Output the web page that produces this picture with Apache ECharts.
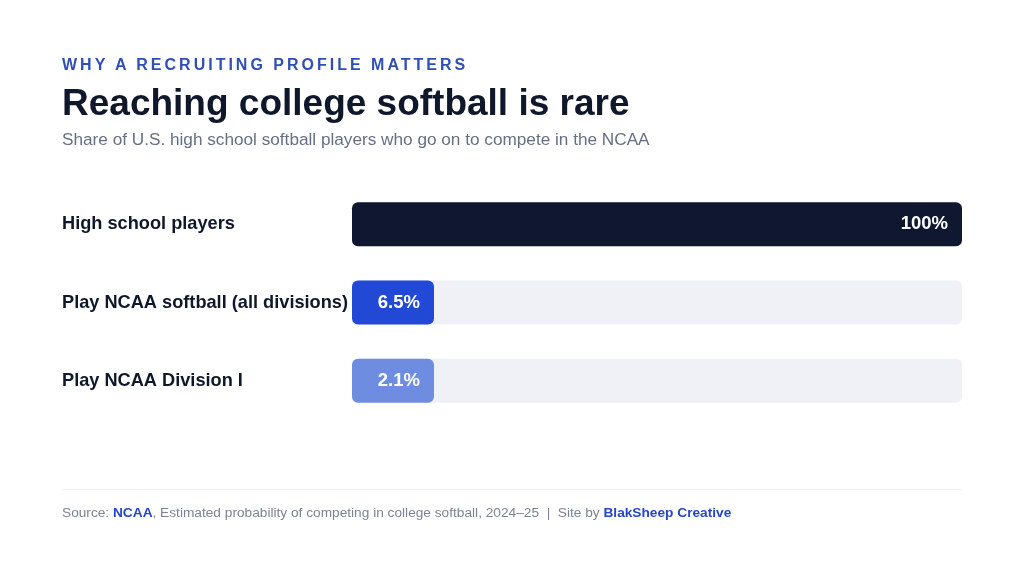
<!DOCTYPE html>
<html lang="en">
<head>
    <meta charset="UTF-8">
    <title>Reaching college softball is rare</title>
    <script src="https://cdn.jsdelivr.net/npm/echarts@6/dist/echarts.min.js"></script>
    <style>
        html, body { margin: 0; padding: 0; background: #ffffff; }
        #wrap { position: relative; width: 1024px; height: 576px; }
        #main { position: absolute; left: 0; top: 0; width: 1024px; height: 576px; }
        /* eyebrow in html because canvas text has no letter spacing */
        #eyebrow {
            position: absolute; left: 62px; top: 55px;
            font: bold 16px "Liberation Sans", Arial, sans-serif;
            letter-spacing: 3px; color: #2f4fb6; line-height: 20px;
        }
    </style>
</head>
<body>
<div id="wrap">
    <div id="main"></div>
    <div id="eyebrow">WHY A RECRUITING PROFILE MATTERS</div>
</div>

<script type="text/javascript">
    // data
    var categories = ['High school players', 'Play NCAA softball (all divisions)', 'Play NCAA Division I'];
    var shares = [100, 6.5, 2.1];
    var barColors = ['#0f1830', '#2249d6', '#6f8de0'];

    var font = '"Liberation Sans", Arial, sans-serif';

    var myChart = echarts.init(document.getElementById('main'));
    var option = {
        backgroundColor: '#ffffff',
        animation: false,
        grid: {
            left: 352,
            right: 62,
            top: 185,
            bottom: 156
        },
        xAxis: {
            type: 'value',
            min: 0,
            max: 100,
            show: false
        },
        yAxis: {
            type: 'category',
            inverse: true,
            data: categories,
            axisLine: { show: false },
            axisTick: { show: false },
            axisLabel: {
                align: 'left',
                margin: 290,
                color: '#0f172a',
                fontFamily: font,
                fontWeight: 'bold',
                fontSize: 18.2
            }
        },
        series: [
            {
                type: 'bar',
                barWidth: 44,
                barMinHeight: 82,
                showBackground: true,
                backgroundStyle: {
                    color: '#eff1f7',
                    borderRadius: 6
                },
                data: shares.map(function (v, i) {
                    return { value: v, itemStyle: { color: barColors[i], borderRadius: 6 } };
                }),
                label: {
                    show: true,
                    position: 'insideRight',
                    distance: 14,
                    color: '#ffffff',
                    fontFamily: font,
                    fontWeight: 'bold',
                    fontSize: 18.5,
                    formatter: function (p) { return p.value + '%'; }
                }
            }
        ],
        graphic: [
            {
                type: 'text', left: 62, top: 86,
                style: {
                    text: 'Reaching college softball is rare',
                    fill: '#0f172a',
                    font: 'bold 37px ' + font
                }
            },
            {
                type: 'text', left: 62, top: 132,
                style: {
                    text: 'Share of U.S. high school softball players who go on to compete in the NCAA',
                    fill: '#667085',
                    font: '17.2px ' + font
                }
            },
            {
                type: 'line',
                shape: { x1: 62, y1: 489.5, x2: 962, y2: 489.5 },
                style: { stroke: '#edf0f4', lineWidth: 1 }
            },
            {
                type: 'text', left: 62, top: 506,
                style: {
                    text: 'Source: {b|NCAA}, Estimated probability of competing in college softball, 2024\u201325  |  Site by {b|BlakSheep Creative}',
                    fill: '#7b8494',
                    font: '13.7px ' + font,
                    rich: {
                        b: { fill: '#2447c8', fontWeight: 'bold', fontSize: 13.7, fontFamily: font }
                    }
                }
            }
        ]
    };

    myChart.setOption(option);
</script>
</body>
</html>
